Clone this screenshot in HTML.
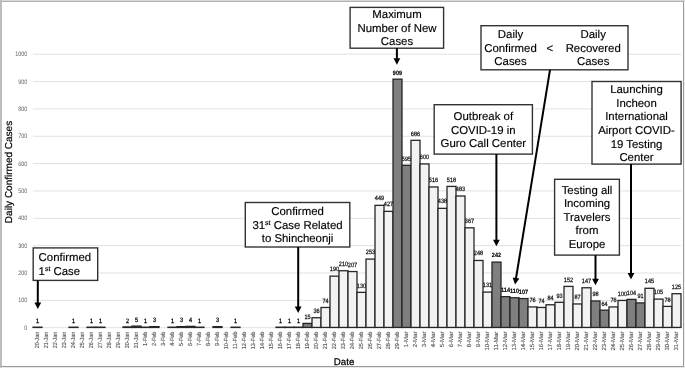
<!DOCTYPE html><html><head><meta charset="utf-8"><style>html,body{margin:0;padding:0;background:#fff;}svg{display:block;will-change:transform;}text{font-family:"Liberation Sans",sans-serif;text-rendering:geometricPrecision;}</style></head><body>
<svg width="685" height="368" viewBox="0 0 685 368">
<defs><filter id="b" x="0" y="0" width="1" height="1"><feGaussianBlur stdDeviation="0.35"/></filter></defs><g filter="url(#b)">
<rect x="0" y="0" width="685" height="368" fill="#fff"/>
<rect x="0" y="0" width="685" height="1" fill="#d8d8d8"/>
<rect x="0" y="1" width="684" height="1" fill="#b0b0b0"/>
<rect x="0" y="0" width="2" height="368" fill="#bdbdbd"/>
<rect x="683" y="1" width="1" height="366" fill="#999"/>
<rect x="684" y="1" width="1" height="367" fill="#f0f0f0"/>
<rect x="1" y="366" width="683" height="1" fill="#9c9c9c"/>
<rect x="1" y="367" width="684" height="1" fill="#e8e8e8"/>
<line x1="33.00" y1="327.70" x2="681.00" y2="327.70" stroke="#e1e1e1" stroke-width="1"/>
<text transform="translate(27.3,329.80) scale(0.85,1)" font-size="6.4" fill="#666" text-anchor="end">0</text>
<line x1="33.00" y1="300.35" x2="681.00" y2="300.35" stroke="#e1e1e1" stroke-width="1"/>
<text transform="translate(27.3,302.45) scale(0.85,1)" font-size="6.4" fill="#666" text-anchor="end">100</text>
<line x1="33.00" y1="273.00" x2="681.00" y2="273.00" stroke="#e1e1e1" stroke-width="1"/>
<text transform="translate(27.3,275.10) scale(0.85,1)" font-size="6.4" fill="#666" text-anchor="end">200</text>
<line x1="33.00" y1="245.65" x2="681.00" y2="245.65" stroke="#e1e1e1" stroke-width="1"/>
<text transform="translate(27.3,247.75) scale(0.85,1)" font-size="6.4" fill="#666" text-anchor="end">300</text>
<line x1="33.00" y1="218.30" x2="681.00" y2="218.30" stroke="#e1e1e1" stroke-width="1"/>
<text transform="translate(27.3,220.40) scale(0.85,1)" font-size="6.4" fill="#666" text-anchor="end">400</text>
<line x1="33.00" y1="190.95" x2="681.00" y2="190.95" stroke="#e1e1e1" stroke-width="1"/>
<text transform="translate(27.3,193.05) scale(0.85,1)" font-size="6.4" fill="#666" text-anchor="end">500</text>
<line x1="33.00" y1="163.60" x2="681.00" y2="163.60" stroke="#e1e1e1" stroke-width="1"/>
<text transform="translate(27.3,165.70) scale(0.85,1)" font-size="6.4" fill="#666" text-anchor="end">600</text>
<line x1="33.00" y1="136.25" x2="681.00" y2="136.25" stroke="#e1e1e1" stroke-width="1"/>
<text transform="translate(27.3,138.35) scale(0.85,1)" font-size="6.4" fill="#666" text-anchor="end">700</text>
<line x1="33.00" y1="108.90" x2="681.00" y2="108.90" stroke="#e1e1e1" stroke-width="1"/>
<text transform="translate(27.3,111.00) scale(0.85,1)" font-size="6.4" fill="#666" text-anchor="end">800</text>
<line x1="33.00" y1="81.55" x2="681.00" y2="81.55" stroke="#e1e1e1" stroke-width="1"/>
<text transform="translate(27.3,83.65) scale(0.85,1)" font-size="6.4" fill="#666" text-anchor="end">900</text>
<line x1="33.00" y1="54.20" x2="681.00" y2="54.20" stroke="#e1e1e1" stroke-width="1"/>
<text transform="translate(27.3,56.30) scale(0.85,1)" font-size="6.4" fill="#666" text-anchor="end">1000</text>
<text transform="translate(11.8,172.0) rotate(-90)" font-size="10.0" fill="#000" stroke="#000" stroke-width="0.2" text-anchor="middle">Daily Confirmed Cases</text>
<text x="344.1" y="365" font-size="9.7" fill="#000" stroke="#000" stroke-width="0.25" text-anchor="middle">Date</text>
<text transform="translate(39.00,331.6) rotate(-90) scale(0.0924,0.1)" font-size="59" fill="#555" stroke="#555" stroke-width="1.2" text-anchor="end">20-Jan</text>
<text transform="translate(48.00,331.6) rotate(-90) scale(0.0924,0.1)" font-size="59" fill="#555" stroke="#555" stroke-width="1.2" text-anchor="end">21-Jan</text>
<text transform="translate(57.00,331.6) rotate(-90) scale(0.0924,0.1)" font-size="59" fill="#555" stroke="#555" stroke-width="1.2" text-anchor="end">22-Jan</text>
<text transform="translate(66.00,331.6) rotate(-90) scale(0.0924,0.1)" font-size="59" fill="#555" stroke="#555" stroke-width="1.2" text-anchor="end">23-Jan</text>
<text transform="translate(75.00,331.6) rotate(-90) scale(0.0924,0.1)" font-size="59" fill="#555" stroke="#555" stroke-width="1.2" text-anchor="end">24-Jan</text>
<text transform="translate(84.00,331.6) rotate(-90) scale(0.0924,0.1)" font-size="59" fill="#555" stroke="#555" stroke-width="1.2" text-anchor="end">25-Jan</text>
<text transform="translate(93.00,331.6) rotate(-90) scale(0.0924,0.1)" font-size="59" fill="#555" stroke="#555" stroke-width="1.2" text-anchor="end">26-Jan</text>
<text transform="translate(102.00,331.6) rotate(-90) scale(0.0924,0.1)" font-size="59" fill="#555" stroke="#555" stroke-width="1.2" text-anchor="end">27-Jan</text>
<text transform="translate(111.00,331.6) rotate(-90) scale(0.0924,0.1)" font-size="59" fill="#555" stroke="#555" stroke-width="1.2" text-anchor="end">28-Jan</text>
<text transform="translate(120.00,331.6) rotate(-90) scale(0.0924,0.1)" font-size="59" fill="#555" stroke="#555" stroke-width="1.2" text-anchor="end">29-Jan</text>
<text transform="translate(129.00,331.6) rotate(-90) scale(0.0924,0.1)" font-size="59" fill="#555" stroke="#555" stroke-width="1.2" text-anchor="end">30-Jan</text>
<text transform="translate(138.00,331.6) rotate(-90) scale(0.0924,0.1)" font-size="59" fill="#555" stroke="#555" stroke-width="1.2" text-anchor="end">31-Jan</text>
<text transform="translate(147.00,331.6) rotate(-90) scale(0.0936,0.1)" font-size="59" fill="#555" stroke="#555" stroke-width="1.2" text-anchor="end">1-Feb</text>
<text transform="translate(156.00,331.6) rotate(-90) scale(0.0936,0.1)" font-size="59" fill="#555" stroke="#555" stroke-width="1.2" text-anchor="end">2-Feb</text>
<text transform="translate(165.00,331.6) rotate(-90) scale(0.0936,0.1)" font-size="59" fill="#555" stroke="#555" stroke-width="1.2" text-anchor="end">3-Feb</text>
<text transform="translate(174.00,331.6) rotate(-90) scale(0.0936,0.1)" font-size="59" fill="#555" stroke="#555" stroke-width="1.2" text-anchor="end">4-Feb</text>
<text transform="translate(183.00,331.6) rotate(-90) scale(0.0936,0.1)" font-size="59" fill="#555" stroke="#555" stroke-width="1.2" text-anchor="end">5-Feb</text>
<text transform="translate(192.00,331.6) rotate(-90) scale(0.0936,0.1)" font-size="59" fill="#555" stroke="#555" stroke-width="1.2" text-anchor="end">6-Feb</text>
<text transform="translate(201.00,331.6) rotate(-90) scale(0.0936,0.1)" font-size="59" fill="#555" stroke="#555" stroke-width="1.2" text-anchor="end">7-Feb</text>
<text transform="translate(210.00,331.6) rotate(-90) scale(0.0936,0.1)" font-size="59" fill="#555" stroke="#555" stroke-width="1.2" text-anchor="end">8-Feb</text>
<text transform="translate(219.00,331.6) rotate(-90) scale(0.0936,0.1)" font-size="59" fill="#555" stroke="#555" stroke-width="1.2" text-anchor="end">9-Feb</text>
<text transform="translate(228.00,331.6) rotate(-90) scale(0.0946,0.1)" font-size="59" fill="#555" stroke="#555" stroke-width="1.2" text-anchor="end">10-Feb</text>
<text transform="translate(237.00,331.6) rotate(-90) scale(0.0969,0.1)" font-size="59" fill="#555" stroke="#555" stroke-width="1.2" text-anchor="end">11-Feb</text>
<text transform="translate(246.00,331.6) rotate(-90) scale(0.0946,0.1)" font-size="59" fill="#555" stroke="#555" stroke-width="1.2" text-anchor="end">12-Feb</text>
<text transform="translate(255.00,331.6) rotate(-90) scale(0.0946,0.1)" font-size="59" fill="#555" stroke="#555" stroke-width="1.2" text-anchor="end">13-Feb</text>
<text transform="translate(264.00,331.6) rotate(-90) scale(0.0946,0.1)" font-size="59" fill="#555" stroke="#555" stroke-width="1.2" text-anchor="end">14-Feb</text>
<text transform="translate(273.00,331.6) rotate(-90) scale(0.0946,0.1)" font-size="59" fill="#555" stroke="#555" stroke-width="1.2" text-anchor="end">15-Feb</text>
<text transform="translate(282.00,331.6) rotate(-90) scale(0.0946,0.1)" font-size="59" fill="#555" stroke="#555" stroke-width="1.2" text-anchor="end">16-Feb</text>
<text transform="translate(291.00,331.6) rotate(-90) scale(0.0946,0.1)" font-size="59" fill="#555" stroke="#555" stroke-width="1.2" text-anchor="end">17-Feb</text>
<text transform="translate(300.00,331.6) rotate(-90) scale(0.0946,0.1)" font-size="59" fill="#555" stroke="#555" stroke-width="1.2" text-anchor="end">18-Feb</text>
<text transform="translate(309.00,331.6) rotate(-90) scale(0.0946,0.1)" font-size="59" fill="#555" stroke="#555" stroke-width="1.2" text-anchor="end">19-Feb</text>
<text transform="translate(318.00,331.6) rotate(-90) scale(0.0946,0.1)" font-size="59" fill="#555" stroke="#555" stroke-width="1.2" text-anchor="end">20-Feb</text>
<text transform="translate(327.00,331.6) rotate(-90) scale(0.0946,0.1)" font-size="59" fill="#555" stroke="#555" stroke-width="1.2" text-anchor="end">21-Feb</text>
<text transform="translate(336.00,331.6) rotate(-90) scale(0.0946,0.1)" font-size="59" fill="#555" stroke="#555" stroke-width="1.2" text-anchor="end">22-Feb</text>
<text transform="translate(345.00,331.6) rotate(-90) scale(0.0946,0.1)" font-size="59" fill="#555" stroke="#555" stroke-width="1.2" text-anchor="end">23-Feb</text>
<text transform="translate(354.00,331.6) rotate(-90) scale(0.0946,0.1)" font-size="59" fill="#555" stroke="#555" stroke-width="1.2" text-anchor="end">24-Feb</text>
<text transform="translate(363.00,331.6) rotate(-90) scale(0.0946,0.1)" font-size="59" fill="#555" stroke="#555" stroke-width="1.2" text-anchor="end">25-Feb</text>
<text transform="translate(372.00,331.6) rotate(-90) scale(0.0946,0.1)" font-size="59" fill="#555" stroke="#555" stroke-width="1.2" text-anchor="end">26-Feb</text>
<text transform="translate(381.00,331.6) rotate(-90) scale(0.0946,0.1)" font-size="59" fill="#555" stroke="#555" stroke-width="1.2" text-anchor="end">27-Feb</text>
<text transform="translate(390.00,331.6) rotate(-90) scale(0.0946,0.1)" font-size="59" fill="#555" stroke="#555" stroke-width="1.2" text-anchor="end">28-Feb</text>
<text transform="translate(399.00,331.6) rotate(-90) scale(0.0946,0.1)" font-size="59" fill="#555" stroke="#555" stroke-width="1.2" text-anchor="end">29-Feb</text>
<text transform="translate(408.00,331.6) rotate(-90) scale(0.1020,0.1)" font-size="59" fill="#555" stroke="#555" stroke-width="1.2" text-anchor="end">1-Mar</text>
<text transform="translate(417.00,331.6) rotate(-90) scale(0.1020,0.1)" font-size="59" fill="#555" stroke="#555" stroke-width="1.2" text-anchor="end">2-Mar</text>
<text transform="translate(426.00,331.6) rotate(-90) scale(0.1020,0.1)" font-size="59" fill="#555" stroke="#555" stroke-width="1.2" text-anchor="end">3-Mar</text>
<text transform="translate(435.00,331.6) rotate(-90) scale(0.1020,0.1)" font-size="59" fill="#555" stroke="#555" stroke-width="1.2" text-anchor="end">4-Mar</text>
<text transform="translate(444.00,331.6) rotate(-90) scale(0.1020,0.1)" font-size="59" fill="#555" stroke="#555" stroke-width="1.2" text-anchor="end">5-Mar</text>
<text transform="translate(453.00,331.6) rotate(-90) scale(0.1020,0.1)" font-size="59" fill="#555" stroke="#555" stroke-width="1.2" text-anchor="end">6-Mar</text>
<text transform="translate(462.00,331.6) rotate(-90) scale(0.1020,0.1)" font-size="59" fill="#555" stroke="#555" stroke-width="1.2" text-anchor="end">7-Mar</text>
<text transform="translate(471.00,331.6) rotate(-90) scale(0.1020,0.1)" font-size="59" fill="#555" stroke="#555" stroke-width="1.2" text-anchor="end">8-Mar</text>
<text transform="translate(480.00,331.6) rotate(-90) scale(0.1020,0.1)" font-size="59" fill="#555" stroke="#555" stroke-width="1.2" text-anchor="end">9-Mar</text>
<text transform="translate(489.00,331.6) rotate(-90) scale(0.1016,0.1)" font-size="59" fill="#555" stroke="#555" stroke-width="1.2" text-anchor="end">10-Mar</text>
<text transform="translate(498.00,331.6) rotate(-90) scale(0.1040,0.1)" font-size="59" fill="#555" stroke="#555" stroke-width="1.2" text-anchor="end">11-Mar</text>
<text transform="translate(507.00,331.6) rotate(-90) scale(0.1016,0.1)" font-size="59" fill="#555" stroke="#555" stroke-width="1.2" text-anchor="end">12-Mar</text>
<text transform="translate(516.00,331.6) rotate(-90) scale(0.1016,0.1)" font-size="59" fill="#555" stroke="#555" stroke-width="1.2" text-anchor="end">13-Mar</text>
<text transform="translate(525.00,331.6) rotate(-90) scale(0.1016,0.1)" font-size="59" fill="#555" stroke="#555" stroke-width="1.2" text-anchor="end">14-Mar</text>
<text transform="translate(534.00,331.6) rotate(-90) scale(0.1016,0.1)" font-size="59" fill="#555" stroke="#555" stroke-width="1.2" text-anchor="end">15-Mar</text>
<text transform="translate(543.00,331.6) rotate(-90) scale(0.1016,0.1)" font-size="59" fill="#555" stroke="#555" stroke-width="1.2" text-anchor="end">16-Mar</text>
<text transform="translate(552.00,331.6) rotate(-90) scale(0.1016,0.1)" font-size="59" fill="#555" stroke="#555" stroke-width="1.2" text-anchor="end">17-Mar</text>
<text transform="translate(561.00,331.6) rotate(-90) scale(0.1016,0.1)" font-size="59" fill="#555" stroke="#555" stroke-width="1.2" text-anchor="end">18-Mar</text>
<text transform="translate(570.00,331.6) rotate(-90) scale(0.1016,0.1)" font-size="59" fill="#555" stroke="#555" stroke-width="1.2" text-anchor="end">19-Mar</text>
<text transform="translate(579.00,331.6) rotate(-90) scale(0.1016,0.1)" font-size="59" fill="#555" stroke="#555" stroke-width="1.2" text-anchor="end">20-Mar</text>
<text transform="translate(588.00,331.6) rotate(-90) scale(0.1016,0.1)" font-size="59" fill="#555" stroke="#555" stroke-width="1.2" text-anchor="end">21-Mar</text>
<text transform="translate(597.00,331.6) rotate(-90) scale(0.1016,0.1)" font-size="59" fill="#555" stroke="#555" stroke-width="1.2" text-anchor="end">22-Mar</text>
<text transform="translate(606.00,331.6) rotate(-90) scale(0.1016,0.1)" font-size="59" fill="#555" stroke="#555" stroke-width="1.2" text-anchor="end">23-Mar</text>
<text transform="translate(615.00,331.6) rotate(-90) scale(0.1016,0.1)" font-size="59" fill="#555" stroke="#555" stroke-width="1.2" text-anchor="end">24-Mar</text>
<text transform="translate(624.00,331.6) rotate(-90) scale(0.1016,0.1)" font-size="59" fill="#555" stroke="#555" stroke-width="1.2" text-anchor="end">25-Mar</text>
<text transform="translate(633.00,331.6) rotate(-90) scale(0.1016,0.1)" font-size="59" fill="#555" stroke="#555" stroke-width="1.2" text-anchor="end">26-Mar</text>
<text transform="translate(642.00,331.6) rotate(-90) scale(0.1016,0.1)" font-size="59" fill="#555" stroke="#555" stroke-width="1.2" text-anchor="end">27-Mar</text>
<text transform="translate(651.00,331.6) rotate(-90) scale(0.1016,0.1)" font-size="59" fill="#555" stroke="#555" stroke-width="1.2" text-anchor="end">28-Mar</text>
<text transform="translate(660.00,331.6) rotate(-90) scale(0.1016,0.1)" font-size="59" fill="#555" stroke="#555" stroke-width="1.2" text-anchor="end">29-Mar</text>
<text transform="translate(669.00,331.6) rotate(-90) scale(0.1016,0.1)" font-size="59" fill="#555" stroke="#555" stroke-width="1.2" text-anchor="end">30-Mar</text>
<text transform="translate(678.00,331.6) rotate(-90) scale(0.1016,0.1)" font-size="59" fill="#555" stroke="#555" stroke-width="1.2" text-anchor="end">31-Mar</text>
<rect x="33.00" y="327.18" width="9.00" height="0.27" fill="#f2f2f2" stroke="#262626" stroke-width="1.3"/>
<rect x="69.00" y="327.18" width="9.00" height="0.27" fill="#f2f2f2" stroke="#262626" stroke-width="1.3"/>
<rect x="87.00" y="327.18" width="9.00" height="0.27" fill="#f2f2f2" stroke="#262626" stroke-width="1.3"/>
<rect x="96.00" y="327.18" width="9.00" height="0.27" fill="#f2f2f2" stroke="#262626" stroke-width="1.3"/>
<rect x="123.00" y="326.91" width="9.00" height="0.54" fill="#f2f2f2" stroke="#262626" stroke-width="1.3"/>
<rect x="132.00" y="326.10" width="9.00" height="1.35" fill="#f2f2f2" stroke="#262626" stroke-width="1.3"/>
<rect x="141.00" y="327.18" width="9.00" height="0.27" fill="#f2f2f2" stroke="#262626" stroke-width="1.3"/>
<rect x="150.00" y="326.64" width="9.00" height="0.81" fill="#f2f2f2" stroke="#262626" stroke-width="1.3"/>
<rect x="168.00" y="327.18" width="9.00" height="0.27" fill="#f2f2f2" stroke="#262626" stroke-width="1.3"/>
<rect x="177.00" y="326.64" width="9.00" height="0.81" fill="#f2f2f2" stroke="#262626" stroke-width="1.3"/>
<rect x="186.00" y="326.37" width="9.00" height="1.08" fill="#f2f2f2" stroke="#262626" stroke-width="1.3"/>
<rect x="195.00" y="327.18" width="9.00" height="0.27" fill="#f2f2f2" stroke="#262626" stroke-width="1.3"/>
<rect x="213.00" y="326.64" width="9.00" height="0.81" fill="#f2f2f2" stroke="#262626" stroke-width="1.3"/>
<rect x="231.00" y="327.18" width="9.00" height="0.27" fill="#f2f2f2" stroke="#262626" stroke-width="1.3"/>
<rect x="276.00" y="327.18" width="9.00" height="0.27" fill="#f2f2f2" stroke="#262626" stroke-width="1.3"/>
<rect x="285.00" y="327.18" width="9.00" height="0.27" fill="#f2f2f2" stroke="#262626" stroke-width="1.3"/>
<rect x="294.00" y="327.18" width="9.00" height="0.27" fill="#f2f2f2" stroke="#262626" stroke-width="1.3"/>
<rect x="303.00" y="323.40" width="9.00" height="4.05" fill="#7f7f7f" stroke="#262626" stroke-width="1.3"/>
<rect x="312.00" y="317.73" width="9.00" height="9.72" fill="#f2f2f2" stroke="#262626" stroke-width="1.3"/>
<rect x="321.00" y="307.47" width="9.00" height="19.98" fill="#f2f2f2" stroke="#262626" stroke-width="1.3"/>
<rect x="330.00" y="276.15" width="9.00" height="51.30" fill="#f2f2f2" stroke="#262626" stroke-width="1.3"/>
<rect x="339.00" y="270.75" width="9.00" height="56.70" fill="#f2f2f2" stroke="#262626" stroke-width="1.3"/>
<rect x="348.00" y="271.56" width="9.00" height="55.89" fill="#f2f2f2" stroke="#262626" stroke-width="1.3"/>
<rect x="357.00" y="292.35" width="9.00" height="35.10" fill="#f2f2f2" stroke="#262626" stroke-width="1.3"/>
<rect x="366.00" y="259.10" width="9.00" height="68.35" fill="#f2f2f2" stroke="#262626" stroke-width="1.3"/>
<rect x="375.00" y="205.34" width="9.00" height="122.11" fill="#f2f2f2" stroke="#262626" stroke-width="1.3"/>
<rect x="384.00" y="211.37" width="9.00" height="116.08" fill="#f2f2f2" stroke="#262626" stroke-width="1.3"/>
<rect x="393.00" y="79.16" width="9.00" height="248.29" fill="#7f7f7f" stroke="#262626" stroke-width="1.3"/>
<rect x="402.00" y="165.29" width="9.00" height="162.16" fill="#7f7f7f" stroke="#262626" stroke-width="1.3"/>
<rect x="411.00" y="140.33" width="9.00" height="187.12" fill="#f2f2f2" stroke="#262626" stroke-width="1.3"/>
<rect x="420.00" y="163.92" width="9.00" height="163.53" fill="#f2f2f2" stroke="#262626" stroke-width="1.3"/>
<rect x="429.00" y="186.96" width="9.00" height="140.49" fill="#f2f2f2" stroke="#262626" stroke-width="1.3"/>
<rect x="438.00" y="208.36" width="9.00" height="119.09" fill="#f2f2f2" stroke="#262626" stroke-width="1.3"/>
<rect x="447.00" y="186.41" width="9.00" height="141.04" fill="#f2f2f2" stroke="#262626" stroke-width="1.3"/>
<rect x="456.00" y="196.01" width="9.00" height="131.44" fill="#f2f2f2" stroke="#262626" stroke-width="1.3"/>
<rect x="465.00" y="227.83" width="9.00" height="99.62" fill="#f2f2f2" stroke="#262626" stroke-width="1.3"/>
<rect x="474.00" y="260.47" width="9.00" height="66.98" fill="#f2f2f2" stroke="#262626" stroke-width="1.3"/>
<rect x="483.00" y="292.08" width="9.00" height="35.37" fill="#f2f2f2" stroke="#262626" stroke-width="1.3"/>
<rect x="492.00" y="262.11" width="9.00" height="65.34" fill="#7f7f7f" stroke="#262626" stroke-width="1.3"/>
<rect x="501.00" y="296.67" width="9.00" height="30.78" fill="#7f7f7f" stroke="#262626" stroke-width="1.3"/>
<rect x="510.00" y="297.75" width="9.00" height="29.70" fill="#7f7f7f" stroke="#262626" stroke-width="1.3"/>
<rect x="519.00" y="298.56" width="9.00" height="28.89" fill="#7f7f7f" stroke="#262626" stroke-width="1.3"/>
<rect x="528.00" y="306.93" width="9.00" height="20.52" fill="#f2f2f2" stroke="#262626" stroke-width="1.3"/>
<rect x="537.00" y="307.47" width="9.00" height="19.98" fill="#f2f2f2" stroke="#262626" stroke-width="1.3"/>
<rect x="546.00" y="304.77" width="9.00" height="22.68" fill="#f2f2f2" stroke="#262626" stroke-width="1.3"/>
<rect x="555.00" y="302.34" width="9.00" height="25.11" fill="#f2f2f2" stroke="#262626" stroke-width="1.3"/>
<rect x="564.00" y="286.41" width="9.00" height="41.04" fill="#f2f2f2" stroke="#262626" stroke-width="1.3"/>
<rect x="573.00" y="303.96" width="9.00" height="23.49" fill="#f2f2f2" stroke="#262626" stroke-width="1.3"/>
<rect x="582.00" y="287.76" width="9.00" height="39.69" fill="#f2f2f2" stroke="#262626" stroke-width="1.3"/>
<rect x="591.00" y="300.99" width="9.00" height="26.46" fill="#7f7f7f" stroke="#262626" stroke-width="1.3"/>
<rect x="600.00" y="310.17" width="9.00" height="17.28" fill="#7f7f7f" stroke="#262626" stroke-width="1.3"/>
<rect x="609.00" y="306.93" width="9.00" height="20.52" fill="#f2f2f2" stroke="#262626" stroke-width="1.3"/>
<rect x="618.00" y="300.45" width="9.00" height="27.00" fill="#f2f2f2" stroke="#262626" stroke-width="1.3"/>
<rect x="627.00" y="299.37" width="9.00" height="28.08" fill="#7f7f7f" stroke="#262626" stroke-width="1.3"/>
<rect x="636.00" y="302.88" width="9.00" height="24.57" fill="#7f7f7f" stroke="#262626" stroke-width="1.3"/>
<rect x="645.00" y="288.30" width="9.00" height="39.15" fill="#f2f2f2" stroke="#262626" stroke-width="1.3"/>
<rect x="654.00" y="299.10" width="9.00" height="28.35" fill="#f2f2f2" stroke="#262626" stroke-width="1.3"/>
<rect x="663.00" y="306.39" width="9.00" height="21.06" fill="#f2f2f2" stroke="#262626" stroke-width="1.3"/>
<rect x="672.00" y="293.70" width="9.00" height="33.75" fill="#f2f2f2" stroke="#262626" stroke-width="1.3"/>
<text transform="translate(37.50,322.83) scale(0.088,0.1)" font-size="63" font-weight="normal" fill="#000" stroke="#000" stroke-width="2.6" text-anchor="middle">1</text>
<text transform="translate(73.50,322.83) scale(0.088,0.1)" font-size="63" font-weight="normal" fill="#000" stroke="#000" stroke-width="2.6" text-anchor="middle">1</text>
<text transform="translate(91.50,322.83) scale(0.088,0.1)" font-size="63" font-weight="normal" fill="#000" stroke="#000" stroke-width="2.6" text-anchor="middle">1</text>
<text transform="translate(100.50,322.83) scale(0.088,0.1)" font-size="63" font-weight="normal" fill="#000" stroke="#000" stroke-width="2.6" text-anchor="middle">1</text>
<text transform="translate(127.50,322.55) scale(0.088,0.1)" font-size="63" font-weight="normal" fill="#000" stroke="#000" stroke-width="2.6" text-anchor="middle">2</text>
<text transform="translate(136.50,321.73) scale(0.088,0.1)" font-size="63" font-weight="normal" fill="#000" stroke="#000" stroke-width="2.6" text-anchor="middle">5</text>
<text transform="translate(145.50,322.83) scale(0.088,0.1)" font-size="63" font-weight="normal" fill="#000" stroke="#000" stroke-width="2.6" text-anchor="middle">1</text>
<text transform="translate(154.50,322.28) scale(0.088,0.1)" font-size="63" font-weight="normal" fill="#000" stroke="#000" stroke-width="2.6" text-anchor="middle">3</text>
<text transform="translate(172.50,322.83) scale(0.088,0.1)" font-size="63" font-weight="normal" fill="#000" stroke="#000" stroke-width="2.6" text-anchor="middle">1</text>
<text transform="translate(181.50,322.28) scale(0.088,0.1)" font-size="63" font-weight="normal" fill="#000" stroke="#000" stroke-width="2.6" text-anchor="middle">3</text>
<text transform="translate(190.50,322.01) scale(0.088,0.1)" font-size="63" font-weight="normal" fill="#000" stroke="#000" stroke-width="2.6" text-anchor="middle">4</text>
<text transform="translate(199.50,322.83) scale(0.088,0.1)" font-size="63" font-weight="normal" fill="#000" stroke="#000" stroke-width="2.6" text-anchor="middle">1</text>
<text transform="translate(217.50,322.28) scale(0.088,0.1)" font-size="63" font-weight="normal" fill="#000" stroke="#000" stroke-width="2.6" text-anchor="middle">3</text>
<text transform="translate(235.50,322.83) scale(0.088,0.1)" font-size="63" font-weight="normal" fill="#000" stroke="#000" stroke-width="2.6" text-anchor="middle">1</text>
<text transform="translate(280.50,322.83) scale(0.088,0.1)" font-size="63" font-weight="normal" fill="#000" stroke="#000" stroke-width="2.6" text-anchor="middle">1</text>
<text transform="translate(289.50,322.83) scale(0.088,0.1)" font-size="63" font-weight="normal" fill="#000" stroke="#000" stroke-width="2.6" text-anchor="middle">1</text>
<text transform="translate(298.50,322.83) scale(0.088,0.1)" font-size="63" font-weight="normal" fill="#000" stroke="#000" stroke-width="2.6" text-anchor="middle">1</text>
<text transform="translate(307.50,319.00) scale(0.088,0.1)" font-size="63" font-weight="normal" fill="#1a1a1a" stroke="#1a1a1a" stroke-width="2.6" text-anchor="middle">15</text>
<text transform="translate(316.50,313.26) scale(0.088,0.1)" font-size="63" font-weight="normal" fill="#1a1a1a" stroke="#1a1a1a" stroke-width="2.6" text-anchor="middle">36</text>
<text transform="translate(325.50,302.88) scale(0.088,0.1)" font-size="63" font-weight="normal" fill="#1a1a1a" stroke="#1a1a1a" stroke-width="2.6" text-anchor="middle">74</text>
<text transform="translate(334.50,271.19) scale(0.088,0.1)" font-size="63" font-weight="normal" fill="#1a1a1a" stroke="#1a1a1a" stroke-width="2.6" text-anchor="middle">190</text>
<text transform="translate(343.50,265.73) scale(0.088,0.1)" font-size="63" font-weight="normal" fill="#1a1a1a" stroke="#1a1a1a" stroke-width="2.6" text-anchor="middle">210</text>
<text transform="translate(352.50,266.55) scale(0.088,0.1)" font-size="63" font-weight="normal" fill="#1a1a1a" stroke="#1a1a1a" stroke-width="2.6" text-anchor="middle">207</text>
<text transform="translate(361.50,287.58) scale(0.088,0.1)" font-size="63" font-weight="normal" fill="#1a1a1a" stroke="#1a1a1a" stroke-width="2.6" text-anchor="middle">130</text>
<text transform="translate(370.50,253.98) scale(0.088,0.1)" font-size="63" font-weight="normal" fill="#1a1a1a" stroke="#1a1a1a" stroke-width="2.6" text-anchor="middle">253</text>
<text transform="translate(379.50,200.43) scale(0.088,0.1)" font-size="63" font-weight="normal" fill="#1a1a1a" stroke="#1a1a1a" stroke-width="2.6" text-anchor="middle">449</text>
<text transform="translate(388.50,206.44) scale(0.088,0.1)" font-size="63" font-weight="normal" fill="#1a1a1a" stroke="#1a1a1a" stroke-width="2.6" text-anchor="middle">427</text>
<text transform="translate(397.50,74.76) scale(0.088,0.1)" font-size="63" font-weight="bold" fill="#000" stroke="#000" stroke-width="1.5" text-anchor="middle">909</text>
<text transform="translate(406.50,160.55) scale(0.088,0.1)" font-size="63" font-weight="normal" fill="#1a1a1a" stroke="#1a1a1a" stroke-width="2.6" text-anchor="middle">595</text>
<text transform="translate(415.50,135.68) scale(0.088,0.1)" font-size="63" font-weight="normal" fill="#1a1a1a" stroke="#1a1a1a" stroke-width="2.6" text-anchor="middle">686</text>
<text transform="translate(424.50,159.18) scale(0.088,0.1)" font-size="63" font-weight="normal" fill="#1a1a1a" stroke="#1a1a1a" stroke-width="2.6" text-anchor="middle">600</text>
<text transform="translate(433.50,182.13) scale(0.088,0.1)" font-size="63" font-weight="normal" fill="#1a1a1a" stroke="#1a1a1a" stroke-width="2.6" text-anchor="middle">516</text>
<text transform="translate(442.50,203.44) scale(0.088,0.1)" font-size="63" font-weight="normal" fill="#1a1a1a" stroke="#1a1a1a" stroke-width="2.6" text-anchor="middle">438</text>
<text transform="translate(451.50,181.58) scale(0.088,0.1)" font-size="63" font-weight="normal" fill="#1a1a1a" stroke="#1a1a1a" stroke-width="2.6" text-anchor="middle">518</text>
<text transform="translate(460.50,191.14) scale(0.088,0.1)" font-size="63" font-weight="normal" fill="#1a1a1a" stroke="#1a1a1a" stroke-width="2.6" text-anchor="middle">483</text>
<text transform="translate(469.50,222.84) scale(0.088,0.1)" font-size="63" font-weight="normal" fill="#1a1a1a" stroke="#1a1a1a" stroke-width="2.6" text-anchor="middle">367</text>
<text transform="translate(478.50,255.35) scale(0.088,0.1)" font-size="63" font-weight="normal" fill="#1a1a1a" stroke="#1a1a1a" stroke-width="2.6" text-anchor="middle">248</text>
<text transform="translate(487.50,287.31) scale(0.088,0.1)" font-size="63" font-weight="normal" fill="#1a1a1a" stroke="#1a1a1a" stroke-width="2.6" text-anchor="middle">131</text>
<text transform="translate(496.50,256.99) scale(0.088,0.1)" font-size="63" font-weight="bold" fill="#000" stroke="#000" stroke-width="1.5" text-anchor="middle">242</text>
<text transform="translate(505.50,291.96) scale(0.088,0.1)" font-size="63" font-weight="bold" fill="#000" stroke="#000" stroke-width="1.5" text-anchor="middle">114</text>
<text transform="translate(514.50,293.05) scale(0.088,0.1)" font-size="63" font-weight="bold" fill="#000" stroke="#000" stroke-width="1.5" text-anchor="middle">110</text>
<text transform="translate(523.50,293.87) scale(0.088,0.1)" font-size="63" font-weight="bold" fill="#000" stroke="#000" stroke-width="1.5" text-anchor="middle">107</text>
<text transform="translate(532.50,302.34) scale(0.088,0.1)" font-size="63" font-weight="normal" fill="#1a1a1a" stroke="#1a1a1a" stroke-width="2.6" text-anchor="middle">76</text>
<text transform="translate(541.50,302.88) scale(0.088,0.1)" font-size="63" font-weight="normal" fill="#1a1a1a" stroke="#1a1a1a" stroke-width="2.6" text-anchor="middle">74</text>
<text transform="translate(550.50,300.15) scale(0.088,0.1)" font-size="63" font-weight="normal" fill="#1a1a1a" stroke="#1a1a1a" stroke-width="2.6" text-anchor="middle">84</text>
<text transform="translate(559.50,297.69) scale(0.088,0.1)" font-size="63" font-weight="normal" fill="#1a1a1a" stroke="#1a1a1a" stroke-width="2.6" text-anchor="middle">93</text>
<text transform="translate(568.50,281.57) scale(0.088,0.1)" font-size="63" font-weight="normal" fill="#1a1a1a" stroke="#1a1a1a" stroke-width="2.6" text-anchor="middle">152</text>
<text transform="translate(577.50,299.33) scale(0.088,0.1)" font-size="63" font-weight="normal" fill="#1a1a1a" stroke="#1a1a1a" stroke-width="2.6" text-anchor="middle">87</text>
<text transform="translate(586.50,282.94) scale(0.088,0.1)" font-size="63" font-weight="normal" fill="#1a1a1a" stroke="#1a1a1a" stroke-width="2.6" text-anchor="middle">147</text>
<text transform="translate(595.50,296.33) scale(0.088,0.1)" font-size="63" font-weight="normal" fill="#1a1a1a" stroke="#1a1a1a" stroke-width="2.6" text-anchor="middle">98</text>
<text transform="translate(604.50,305.62) scale(0.088,0.1)" font-size="63" font-weight="normal" fill="#1a1a1a" stroke="#1a1a1a" stroke-width="2.6" text-anchor="middle">64</text>
<text transform="translate(613.50,302.34) scale(0.088,0.1)" font-size="63" font-weight="normal" fill="#1a1a1a" stroke="#1a1a1a" stroke-width="2.6" text-anchor="middle">76</text>
<text transform="translate(622.50,295.78) scale(0.088,0.1)" font-size="63" font-weight="normal" fill="#1a1a1a" stroke="#1a1a1a" stroke-width="2.6" text-anchor="middle">100</text>
<text transform="translate(631.50,294.69) scale(0.088,0.1)" font-size="63" font-weight="normal" fill="#1a1a1a" stroke="#1a1a1a" stroke-width="2.6" text-anchor="middle">104</text>
<text transform="translate(640.50,298.24) scale(0.088,0.1)" font-size="63" font-weight="normal" fill="#1a1a1a" stroke="#1a1a1a" stroke-width="2.6" text-anchor="middle">91</text>
<text transform="translate(649.50,283.49) scale(0.088,0.1)" font-size="63" font-weight="normal" fill="#1a1a1a" stroke="#1a1a1a" stroke-width="2.6" text-anchor="middle">145</text>
<text transform="translate(658.50,294.41) scale(0.088,0.1)" font-size="63" font-weight="normal" fill="#1a1a1a" stroke="#1a1a1a" stroke-width="2.6" text-anchor="middle">105</text>
<text transform="translate(667.50,301.79) scale(0.088,0.1)" font-size="63" font-weight="normal" fill="#1a1a1a" stroke="#1a1a1a" stroke-width="2.6" text-anchor="middle">78</text>
<text transform="translate(676.50,288.95) scale(0.088,0.1)" font-size="63" font-weight="normal" fill="#1a1a1a" stroke="#1a1a1a" stroke-width="2.6" text-anchor="middle">125</text>
<rect x="33.2" y="247.9" width="64.5" height="32.49999999999997" fill="#fff" stroke="#333" stroke-width="1.4"/>
<text x="38.6" y="261.3" font-size="11.4" fill="#000" stroke="#000" stroke-width="0.15">Confirmed</text>
<text x="38.6" y="275" font-size="11.4" fill="#000" stroke="#000" stroke-width="0.15">1<tspan font-size="7" dy="-4">st</tspan><tspan dy="4"> Case</tspan></text>
<line x1="37.8" y1="280.4" x2="37.80" y2="303.00" stroke="#000" stroke-width="2"/>
<path d="M37.80,309.00 L34.40,302.50 L41.20,302.50 Z" fill="#000"/>
<rect x="245.3" y="202.5" width="104.5" height="44.5" fill="#fff" stroke="#333" stroke-width="1.4"/>
<text x="297.55" y="214.80" font-size="11.4" fill="#000" stroke="#000" stroke-width="0.15" text-anchor="middle">Confirmed</text>
<text x="297.55" y="228.6" font-size="11.4" fill="#000" stroke="#000" stroke-width="0.15" text-anchor="middle">31<tspan font-size="7" dy="-4">st</tspan><tspan dy="4"> Case Related</tspan></text>
<text x="297.55" y="242.30" font-size="11.4" fill="#000" stroke="#000" stroke-width="0.15" text-anchor="middle">to Shincheonji</text>
<line x1="298.2" y1="247" x2="298.20" y2="307.00" stroke="#000" stroke-width="2"/>
<path d="M298.20,313.00 L294.80,306.50 L301.60,306.50 Z" fill="#000"/>
<rect x="350.1" y="7.4" width="93.5" height="40.800000000000004" fill="#fff" stroke="#333" stroke-width="1.4"/>
<text x="397" y="18.20" font-size="11.4" fill="#000" stroke="#000" stroke-width="0.15" text-anchor="middle">Maximum</text>
<text x="397" y="31.80" font-size="11.4" fill="#000" stroke="#000" stroke-width="0.15" text-anchor="middle">Number of New</text>
<text x="397" y="45.40" font-size="11.4" fill="#000" stroke="#000" stroke-width="0.15" text-anchor="middle">Cases</text>
<line x1="396.9" y1="48.1" x2="396.90" y2="58.70" stroke="#000" stroke-width="2"/>
<path d="M396.90,64.70 L393.50,58.20 L400.30,58.20 Z" fill="#000"/>
<rect x="481" y="25.7" width="147" height="44.099999999999994" fill="#fff" stroke="#333" stroke-width="1.4"/>
<text x="510.5" y="38.20" font-size="11.4" fill="#000" stroke="#000" stroke-width="0.15" text-anchor="middle">Daily</text>
<text x="510.5" y="51.80" font-size="11.4" fill="#000" stroke="#000" stroke-width="0.15" text-anchor="middle">Confirmed</text>
<text x="510.5" y="65.40" font-size="11.4" fill="#000" stroke="#000" stroke-width="0.15" text-anchor="middle">Cases</text>
<text x="593.2" y="38.20" font-size="11.4" fill="#000" stroke="#000" stroke-width="0.15" text-anchor="middle">Daily</text>
<text x="593.2" y="51.80" font-size="11.4" fill="#000" stroke="#000" stroke-width="0.15" text-anchor="middle">Recovered</text>
<text x="593.2" y="65.40" font-size="11.4" fill="#000" stroke="#000" stroke-width="0.15" text-anchor="middle">Cases</text>
<text x="549.8" y="52.00" font-size="11.4" fill="#000" stroke="#000" stroke-width="0.15" text-anchor="middle">&lt;</text>
<line x1="550" y1="69.8" x2="515.97" y2="278.48" stroke="#000" stroke-width="2"/>
<path d="M515.00,284.40 L512.69,277.44 L519.40,278.53 Z" fill="#000"/>
<rect x="434.2" y="104.7" width="98.19999999999999" height="49.39999999999999" fill="#fff" stroke="#333" stroke-width="1.4"/>
<text x="483.3" y="120.20" font-size="11.4" fill="#000" stroke="#000" stroke-width="0.15" text-anchor="middle">Outbreak of</text>
<text x="483.3" y="133.80" font-size="11.4" fill="#000" stroke="#000" stroke-width="0.15" text-anchor="middle">COVID-19 in</text>
<text x="483.3" y="147.40" font-size="11.4" fill="#000" stroke="#000" stroke-width="0.15" text-anchor="middle">Guro Call Center</text>
<line x1="496.4" y1="154.1" x2="496.40" y2="240.30" stroke="#000" stroke-width="2"/>
<path d="M496.40,246.30 L493.00,239.80 L499.80,239.80 Z" fill="#000"/>
<rect x="592" y="81.5" width="89.10000000000002" height="82.6" fill="#fff" stroke="#333" stroke-width="1.4"/>
<text x="636.5" y="93.10" font-size="11.4" fill="#000" stroke="#000" stroke-width="0.15" text-anchor="middle">Launching</text>
<text x="636.5" y="106.70" font-size="11.4" fill="#000" stroke="#000" stroke-width="0.15" text-anchor="middle">Incheon</text>
<text x="636.5" y="120.30" font-size="11.4" fill="#000" stroke="#000" stroke-width="0.15" text-anchor="middle">International</text>
<text x="636.5" y="133.90" font-size="11.4" fill="#000" stroke="#000" stroke-width="0.15" text-anchor="middle">Airport COVID-</text>
<text x="636.5" y="147.50" font-size="11.4" fill="#000" stroke="#000" stroke-width="0.15" text-anchor="middle">19 Testing</text>
<text x="636.5" y="161.10" font-size="11.4" fill="#000" stroke="#000" stroke-width="0.15" text-anchor="middle">Center</text>
<line x1="631" y1="164.1" x2="631.00" y2="273.60" stroke="#000" stroke-width="2"/>
<path d="M631.00,279.60 L627.60,273.10 L634.40,273.10 Z" fill="#000"/>
<rect x="554.6" y="179.3" width="64.79999999999995" height="75.79999999999998" fill="#fff" stroke="#333" stroke-width="1.4"/>
<text x="587" y="193.50" font-size="11.4" fill="#000" stroke="#000" stroke-width="0.15" text-anchor="middle">Testing all</text>
<text x="587" y="207.10" font-size="11.4" fill="#000" stroke="#000" stroke-width="0.15" text-anchor="middle">Incoming</text>
<text x="587" y="220.70" font-size="11.4" fill="#000" stroke="#000" stroke-width="0.15" text-anchor="middle">Travelers</text>
<text x="587" y="234.30" font-size="11.4" fill="#000" stroke="#000" stroke-width="0.15" text-anchor="middle">from</text>
<text x="587" y="247.90" font-size="11.4" fill="#000" stroke="#000" stroke-width="0.15" text-anchor="middle">Europe</text>
<line x1="595.5" y1="255.1" x2="595.50" y2="279.30" stroke="#000" stroke-width="2"/>
<path d="M595.50,285.30 L592.10,278.80 L598.90,278.80 Z" fill="#000"/>
</g></svg></body></html>
